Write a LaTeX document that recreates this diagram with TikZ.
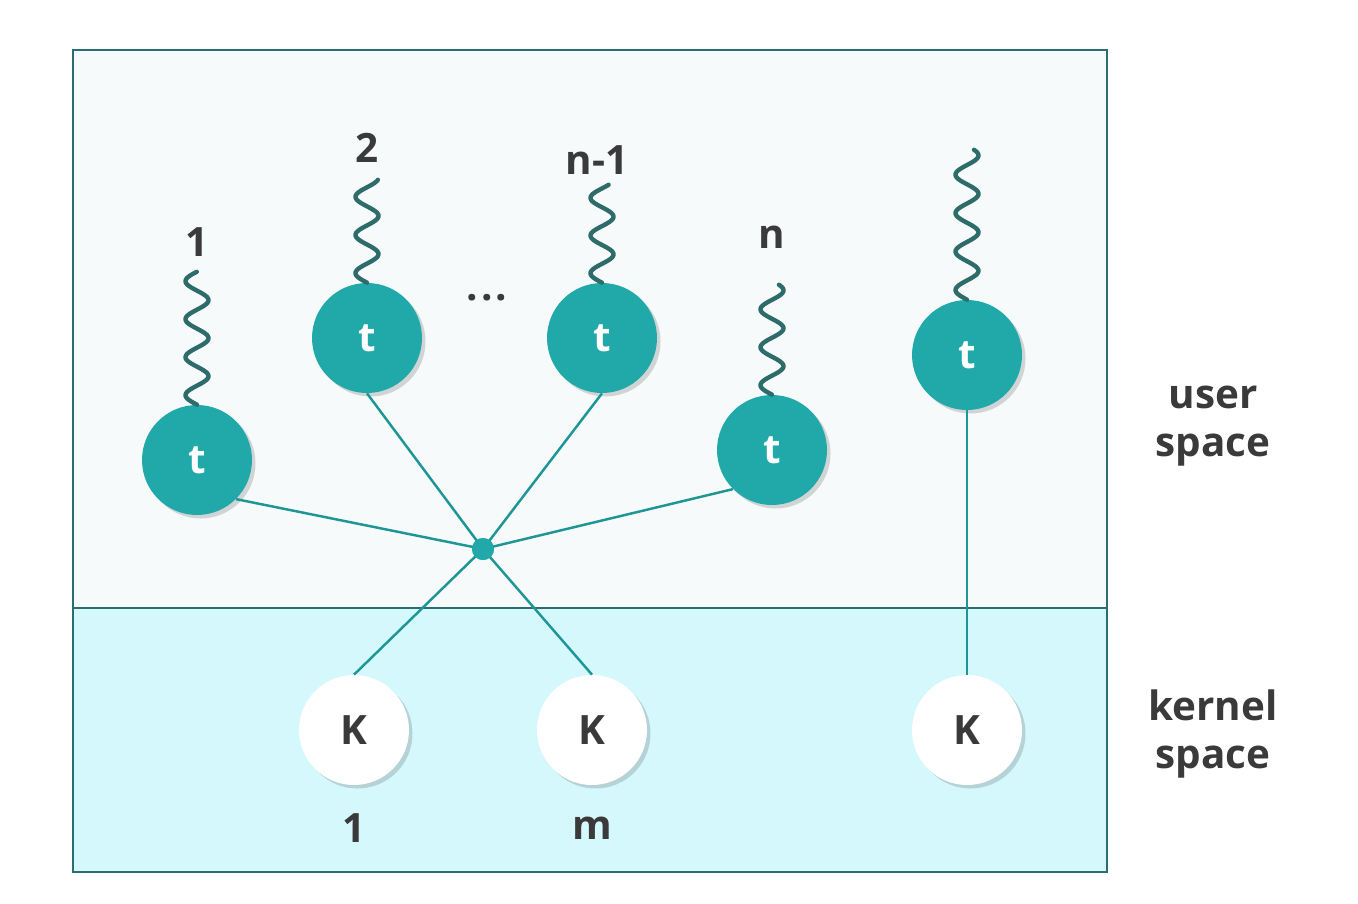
\documentclass[tikz,border=0pt]{standalone}
\usepackage{fontspec}
\setmainfont{Open Sans}
\usetikzlibrary{shadows}
\definecolor{tealc}{HTML}{21A9AA}
\definecolor{linec}{HTML}{1E9696}
\definecolor{wavec}{HTML}{2E6B6B}
\definecolor{framec}{HTML}{2B6E72}
\definecolor{topc}{HTML}{F6FAFA}
\definecolor{botc}{HTML}{D5F8FC}
\definecolor{txtc}{HTML}{3A3A3A}
\newcommand\wavyline[4]{%
  \begin{scope}[shift={(#1.north)}]
    \draw[wave] plot[domain=0:1,samples=140,smooth,variable=\u] ({-11.5*sin(360*#3*\u)},{-#2*\u});
    \coordinate (#4) at ({-11.5*sin(360*#3)},{-#2});
  \end{scope}}
\begin{document}
\begin{tikzpicture}[x=0.02cm,y=-0.02cm,
  lbl/.style={text=txtc,font=\fontsize{23}{26}\bfseries\selectfont,inner sep=0},
  tnode/.style={circle,fill=tealc,text=white,minimum size=2.2cm,inner sep=0,
    font=\fontsize{23}{26}\bfseries\selectfont,
    drop shadow={shadow xshift=2pt,shadow yshift=-2pt,opacity=0.15,fill=black}},
  knode/.style={circle,fill=white,text=txtc,minimum size=2.2cm,inner sep=0,
    font=\fontsize{23}{26}\bfseries\selectfont,
    drop shadow={shadow xshift=2pt,shadow yshift=-2pt,opacity=0.15,fill=black}},
  conn/.style={draw=linec,line width=1.4pt},
  wave/.style={draw=wavec,line width=2.5pt,line cap=round,line join=round}
]
\useasboundingbox (0,0) rectangle (1358,903);
\fill[white] (0,0) rectangle (1358,903);
% regions
\fill[topc] (73,50) rectangle (1107,608);
\fill[botc] (73,608) rectangle (1107,872);
\draw[framec,line width=1.2pt] (73,50) rectangle (1107,872);
\draw[framec,line width=1.2pt] (73,608) -- (1107,608);

% hub
\node[circle,fill=tealc,minimum size=0.44cm,inner sep=0] (hub) at (483,549) {};

% thread nodes
\node[tnode] (t1) at (197,460) {t};
\node[tnode] (t2) at (367,338) {t};
\node[tnode] (tn1) at (602,338) {t};
\node[tnode] (tn) at (772,450) {t};
\node[tnode] (tr) at (967,355) {t};

% waves
\wavyline{t1}{133}{3.5}{w1}
\wavyline{t2}{103}{2.7}{w2}
\wavyline{tn1}{98}{2.6}{wn1}
\wavyline{tn}{110}{2.9}{wn}
\wavyline{tr}{150}{3.9}{wr}

% kernel nodes
\node[knode] (k1) at (354,730) {K};
\node[knode] (km) at (592,730) {K};
\node[knode] (kr) at (967,730) {K};

% connectors
\draw[conn] (t1.south east) -- (hub.center);
\draw[conn] (t2.south) -- (hub.center);
\draw[conn] (tn1.south) -- (hub.center);
\draw[conn] (tn.south west) -- (hub.center);
\draw[conn] (hub.center) -- (k1.north);
\draw[conn] (hub.center) -- (km.north);
\draw[conn] (tr.south) -- (kr.north);
\node[circle,fill=tealc,minimum size=0.44cm,inner sep=0] at (hub) {};

% labels
\node[lbl] (l1) at (197,242) {1};
\node[lbl] (l2) at (367,148) {2};
\node[lbl] (ln1) at (597,160) {n-1};
\node[lbl] (ln) at (772,237) {n};
\node[lbl,anchor=base] (dots) at (487,300) {.\kern0.08em.\kern0.08em.};
\node[lbl] (lk1) at (354,828) {1};
\node[lbl] (lkm) at (592,828) {m};
\node[lbl,align=center,font=\fontsize{23}{27}\bfseries\selectfont] (us) at (1213,426) {user\\space};
\node[lbl,align=center,font=\fontsize{23}{27}\bfseries\selectfont] (ks) at (1213,734) {kernel\\space};
\end{tikzpicture}
\end{document}
